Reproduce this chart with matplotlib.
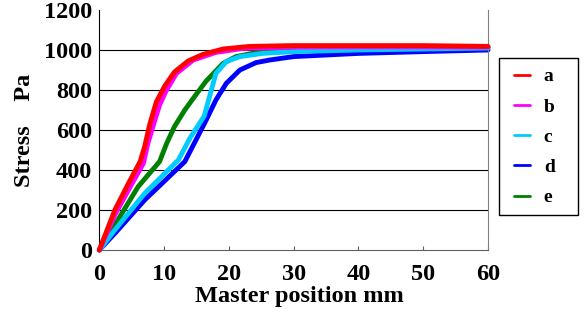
import matplotlib
matplotlib.use("Agg")
import matplotlib.pyplot as plt
from matplotlib.patches import Rectangle

plt.rcParams['font.family'] = ['Liberation Serif', 'DejaVu Serif']
plt.rcParams['font.weight'] = 'bold'

# Master position (mm) and stress (Pa)
x_a = [0, 2.4, 4.5, 6.3, 7.0, 7.8, 8.8, 10.1, 11.6, 13.7, 16.0, 19.1, 23.2, 30, 40, 50, 60]
y_a = [0, 200, 333, 442, 517, 630, 740, 820, 890, 945, 978, 1005, 1018, 1022, 1022, 1022, 1018]

x_b = [0, 2.4, 4.5, 6.8, 7.5, 8.3, 9.3, 10.3, 11.9, 14.5, 18.0, 22.2, 30, 40, 50, 60]
y_b = [0, 175, 300, 433, 533, 620, 725, 795, 883, 950, 988, 1008, 1015, 1016, 1016, 1015]

x_c = [0, 2.4, 7.0, 12.2, 14.0, 16.2, 16.7, 17.3, 18.0, 19.6, 21.7, 25.2, 30, 40, 50, 60]
y_c = [0, 100, 283, 450, 560, 670, 730, 800, 883, 942, 967, 983, 992, 1000, 1005, 1010]

x_d = [0, 2.4, 7.0, 13.2, 14.6, 16.5, 18.0, 19.6, 21.7, 24.2, 26.3, 30, 40, 50, 60]
y_d = [0, 83, 250, 442, 530, 650, 750, 833, 900, 937, 950, 967, 983, 992, 1000]

x_e = [0, 2.4, 6.0, 9.3, 10.4, 11.6, 13.2, 14.7, 16.5, 19.1, 21.1, 24.7, 30, 40, 50, 60]
y_e = [0, 125, 317, 442, 533, 617, 700, 767, 845, 933, 967, 990, 1005, 1010, 1011, 1011]

labels = ['a', 'b', 'c', 'd', 'e']
colors = ['#FF0000', '#FF00FF', '#00CCFF', '#0000FF', '#008000']
xs = [x_a, x_b, x_c, x_d, x_e]
ys = [y_a, y_b, y_c, y_d, y_e]
zorders = [6, 5, 4, 2, 3]

fig = plt.figure(figsize=(5.84, 3.22), dpi=100)
ax = fig.add_axes([99.3 / 584, 1 - 250 / 322, (488 - 99.3) / 584, 240 / 322])

lines = []
for x, y, c, lab, z in zip(xs, ys, colors, labels, zorders):
    ln, = ax.plot(x, y, color=c, lw=3.5, label=lab, zorder=z,
                  solid_capstyle='round', solid_joinstyle='round', clip_on=False)
    lines.append(ln)

ax.set_xlim(0, 60)
ax.set_ylim(0, 1200)
ax.set_xticks(range(0, 61, 10))
ax.set_yticks(range(0, 1201, 200))
for yv in range(200, 1001, 200):
    ax.axhline(yv, color='black', lw=0.8, zorder=1)

ax.spines['top'].set_visible(False)
ax.spines['right'].set_color('#808080')
ax.spines['bottom'].set_color('#606060')
ax.spines['left'].set_color('black')
ax.tick_params(axis='x', direction='in', length=3, color='#606060', labelsize=17.5, pad=10)
ax.tick_params(axis='y', length=0, labelsize=17.5, pad=5)

ax.set_xlabel('Master position mm', fontsize=17.5, fontweight='bold')
ax.set_ylabel('Stress    Pa', fontsize=17.5, fontweight='bold')
ax.xaxis.set_label_coords(0.514, -0.15)
ax.yaxis.set_label_coords(-0.165, 0.5)

# legend box drawn by hand so its size matches
fig.patches.append(Rectangle((499 / 584, 1 - 215 / 322), 79 / 584, 157 / 322,
                             transform=fig.transFigure, fill=False,
                             edgecolor='black', lw=1.0))
leg = fig.legend(lines, labels, loc='upper left', bbox_to_anchor=(504 / 584, 1 - 58 / 322),
                 borderaxespad=0, frameon=False,
                 handlelength=0.85, handletextpad=0.7, labelspacing=0.65,
                 borderpad=0.5, prop={'weight': 'bold', 'size': 14})
for h in leg.legend_handles:
    h.set_linewidth(2)

fig.savefig('out.png', dpi=100)
